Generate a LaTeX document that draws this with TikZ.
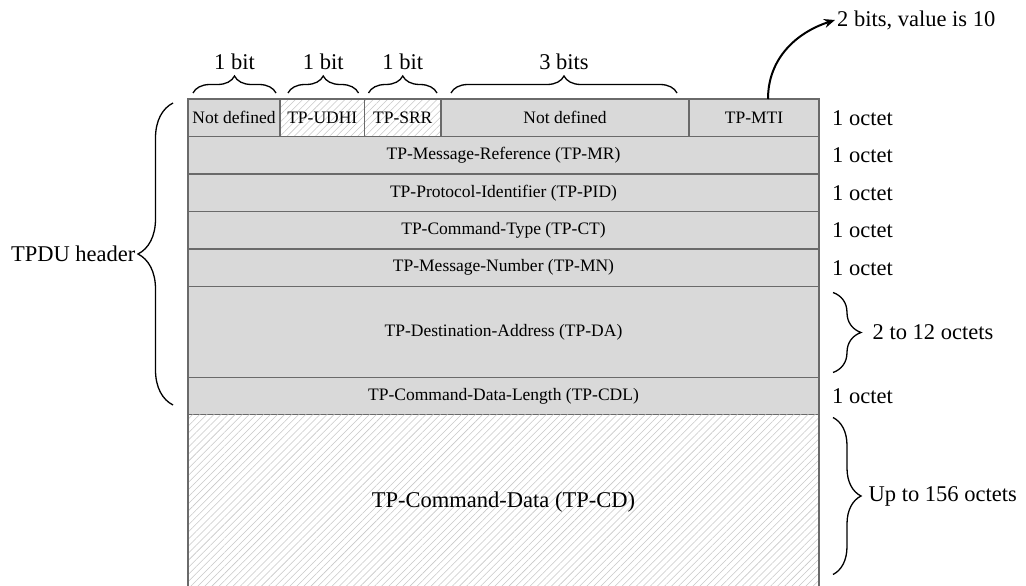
\documentclass[tikz,border=0pt]{standalone}
\usepackage{fontspec}
\setmainfont{Liberation Serif}
\usetikzlibrary{positioning,calc,decorations.pathreplacing,patterns.meta,arrows.meta}
\definecolor{cellgray}{HTML}{D9D9D9}
\definecolor{rulegray}{HTML}{6A6A6A}
\definecolor{hatchgray}{HTML}{C8C8C8}

\tikzset{
  brace/.style={decorate,decoration={brace,amplitude=#1},line width=1.3pt},
  hatched/.style={fill=none,pattern={Lines[angle=45,distance=5pt,line width=0.55pt]},pattern color=hatchgray},
  sizelabel/.style={inner sep=2pt,font=\fontsize{22.5}{26}\selectfont}
}

\begin{document}
\begin{tikzpicture}[x=1pt,y=1pt]
      \fill[white] (0,0) rectangle (1026,-586);
      \useasboundingbox (0,0) rectangle (1026,-586);
      % the command PDU
      \begin{scope}[every node/.style={rectangle,draw=rulegray,line width=1.4pt,fill=cellgray,
          inner sep=0pt,outer sep=0pt,minimum height=37.5pt,font=\fontsize{17.5}{20}\selectfont}]
        \node[minimum width=92pt,anchor=north west] (nd1) at (188,-99) {Not defined};
        \node[minimum width=84.5pt,hatched,right=0pt of nd1] (udhi) {TP-UDHI};
        \node[minimum width=76.5pt,hatched,right=0pt of udhi] (srr) {TP-SRR};
        \node[minimum width=248pt,right=0pt of srr] (nd2) {Not defined};
        \node[minimum width=130pt,right=0pt of nd2] (mti) {TP-MTI};
        \node[minimum width=631pt,anchor=north west] (mr) at (nd1.south west) {TP-Message-Reference (TP-MR)};
        \node[minimum width=631pt,below=0pt of mr] (pid) {TP-Protocol-Identifier (TP-PID)};
        \node[minimum width=631pt,below=0pt of pid] (ct) {TP-Command-Type (TP-CT)};
        \node[minimum width=631pt,below=0pt of ct] (mn) {TP-Message-Number (TP-MN)};
        \node[minimum width=631pt,minimum height=91pt,below=0pt of mn] (da) {TP-Destination-Address (TP-DA)};
        \node[minimum width=631pt,minimum height=37pt,below=0pt of da] (cdl) {TP-Command-Data-Length (TP-CDL)};
        \node[minimum width=631pt,minimum height=175pt,below=0pt of cdl,draw=none,hatched,
          font=\fontsize{22.5}{26}\selectfont] (cd) {TP-Command-Data (TP-CD)};
      \end{scope}
      \draw[rulegray,line width=1.4pt] (cd.north west) -- (cd.south west);
      \draw[rulegray,line width=1.4pt] (cd.north east) -- (cd.south east);

      % sizes on the right
      \begin{scope}[every node/.style={sizelabel}]
        \node[right=11pt of mti] (o1) {1 octet};
        \node[right=11pt of mr] (o2) {1 octet};
        \node[right=11pt of pid] (o3) {1 octet};
        \node[right=11pt of ct] (o4) {1 octet};
        \node[right=11pt of mn] (o5) {1 octet};
        \node[right=11pt of cdl] (o6) {1 octet};
      \end{scope}
      \draw[brace=28pt] ([xshift=14,yshift=-6]da.north east) -- ([xshift=14,yshift=5]da.south east)
        node[sizelabel,midway,right=37pt] (o7) {2 to 12 octets};
      \draw[brace=28pt] ([xshift=14,yshift=-3]cd.north east) -- ([xshift=14,yshift=-160]cd.north east)
        node[sizelabel,midway,right=33pt] (o8) {Up to 156 octets};

      % bits of the first octet
      \begin{scope}[every node/.style={sizelabel}]
        \draw[brace=17pt] ([xshift=5,yshift=6]nd1.north west) -- ([xshift=-4,yshift=6]nd1.north east)
          node[midway,above=21pt] (b1) {1 bit};
        \draw[brace=17pt] ([xshift=8,yshift=6]udhi.north west) -- ([xshift=-6,yshift=6]udhi.north east)
          node[midway,above=21pt] (b2) {1 bit};
        \draw[brace=17pt] ([xshift=4,yshift=6]srr.north west) -- ([xshift=-4,yshift=6]srr.north east)
          node[midway,above=21pt] (b3) {1 bit};
        \draw[brace=17pt] ([xshift=10,yshift=6]nd2.north west) -- ([xshift=-12,yshift=6]nd2.north east)
          node[midway,above=21pt] (b4) {3 bits};
        \node[anchor=west] (b5) at (835,-20) {2 bits, value is 10};
      \end{scope}
      \draw[-{Stealth[length=11pt,width=9pt]},line width=2pt] ([xshift=14]mti.north) to[out=90,in=198] (b5.west);

      % header brace
      \draw[brace=35pt] ([xshift=-15,yshift=9.5]cdl.south west) -- ([xshift=-15,yshift=-4]nd1.north west)
        node[sizelabel,midway,left=35pt] (hdr) {TPDU header};
\end{tikzpicture}
\end{document}
